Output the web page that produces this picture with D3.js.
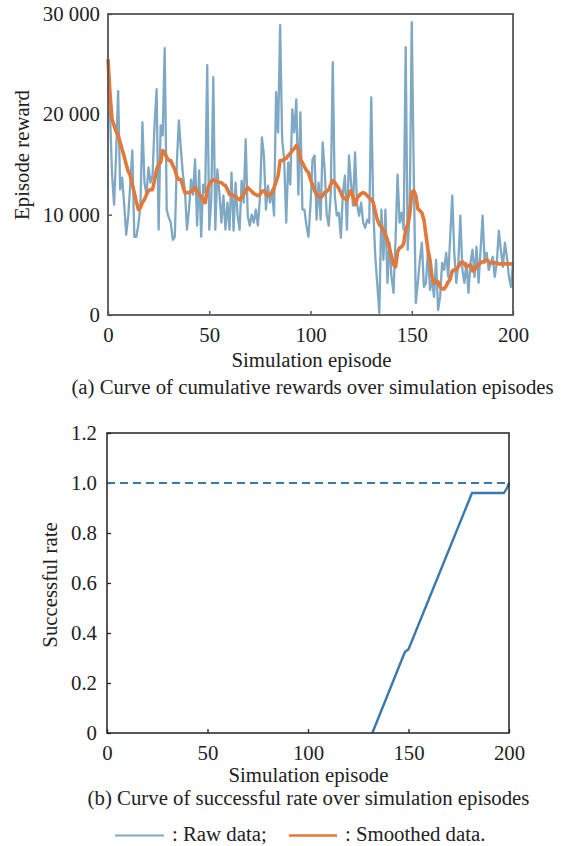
<!DOCTYPE html>
<html>
<head>
<meta charset="utf-8">
<script src="https://cdn.jsdelivr.net/npm/d3@7/dist/d3.min.js"></script>
<style>
  html, body { margin: 0; padding: 0; background: #fff; }
  svg { display: block; }
  svg text { font-family: "Liberation Serif", "Times New Roman", Times, "Nimbus Roman", "DejaVu Serif", serif; fill: #222; }
</style>
</head>
<body>
<svg id="fig" width="561" height="846"></svg>
<script>
// Episode reward per simulation episode (raw), episodes 0..200
const rawReward = [
  24000, 20000, 14000, 11000, 16000, 22300, 12500, 13700, 11000, 8000,
  9900, 13000, 16400, 7800, 7800, 9000, 10900, 19200, 13200, 12000,
  14700, 13200, 13900, 19000, 22500, 8500, 18900, 17900, 26600, 10500,
  9700, 9200, 7500, 7800, 15200, 19400, 16500, 14000, 12400, 8500,
  10500, 13500, 12000, 15500, 8900, 14400, 7800, 13000, 12200, 24900,
  8500, 11500, 23700, 8500, 14500, 12200, 9200, 11900, 8500, 11200,
  8500, 14200, 8400, 13200, 9900, 8500, 13400, 11200, 17500, 9900,
  8900, 10000, 9200, 10500, 8900, 11500, 17700, 15900, 10500, 12900,
  11200, 12500, 9900, 22200, 18200, 28900, 17500, 15500, 9200, 15200,
  13000, 20500, 18200, 21500, 12000, 20200, 10500, 10500, 8900, 7800,
  11000, 15500, 15900, 9500, 13200, 9500, 17200, 14500, 10000, 8900,
  12200, 25200, 11900, 9900, 10200, 7700, 12200, 13900, 8500, 15900,
  13200, 10900, 16200, 11000, 9900, 11200, 9200, 8700, 9500, 9200,
  21700, 10500, 5800, 3000, 200, 10500, 5500, 10500, 3200, 7200,
  3800, 2200, 7500, 14000, 9200, 10200, 8500, 26700, 6500, 10500,
  29200, 13900, 1200, 3200, 5500, 7200, 2800, 3200, 6500, 2500,
  3500, 1800, 5500, 500, 1800, 5200, 4500, 6200, 3800, 7800,
  11900, 6200, 3200, 5200, 9900, 4500, 3200, 5200, 2200, 5200,
  6500, 3800, 6800, 3200, 6500, 9900, 5200, 6200, 4500, 5200,
  5800, 3800, 5200, 8400, 6500, 4800, 7200, 5800, 3800, 2800,
  5200
];

// Smoothed episode reward, episodes 0..200
const smoothReward = [
  25500, 22000, 19500, 18900, 18300, 17900, 17200, 16500, 15800, 15000,
  14300, 13900, 13000, 12200, 11300, 10500, 10700, 11200, 11500, 12000,
  12400, 12500, 12500, 13500, 14500, 15000, 15200, 16400, 16200, 15700,
  15400, 15400, 14900, 14500, 13800, 13500, 13500, 12800, 12200, 12200,
  12200, 12300, 12400, 12700, 12300, 12000, 11800, 11400, 11200, 12500,
  13000, 13300, 13500, 13400, 13300, 13200, 13200, 13000, 12900, 12500,
  12000, 12000, 11900, 11800, 11600, 11500, 11700, 12000, 12400, 12700,
  12500, 12300, 12100, 12000, 11900, 12000, 12300, 12400, 12100, 11900,
  12000, 12200, 12700, 13300, 13900, 15400, 15400, 15500, 15600, 15900,
  16100, 16400, 16600, 16900, 16600, 15500, 15200, 14800, 14400, 14200,
  13500, 13000, 12400, 12000, 11800, 11700, 11900, 12200, 12300, 12500,
  13000, 13400, 13200, 12900, 12600, 12200, 11700, 11600, 11500, 12000,
  12400, 11800, 11000, 11600, 11900, 12100, 12200, 12100, 11900, 11700,
  11500, 11200, 10300, 9500, 9000, 8800, 8500, 8000, 7500, 6700,
  5800, 5000, 4800, 6300, 6700, 6800, 7100, 8500, 9000, 10000,
  12200, 12400, 11900, 10600, 10400, 10200, 9500, 8000, 6500, 5500,
  3800, 3200, 3400, 3300, 2800, 2600, 2600, 2900, 3300, 3600,
  4400, 4500, 4500, 4800, 5200, 5300, 5100, 4800, 4900, 5000,
  4400, 4500, 4800, 5000, 5200, 5300, 5400, 5500, 5300, 5200,
  5200, 5200, 5200, 5100, 5100, 5100, 5100, 5100, 5100, 5100,
  5100
];

// Successful rate: breakpoints of the rising part of the curve
const rateEpisodes = [132, 147.5, 148.3, 150, 181.6, 197.5, 199, 200];
const rateValues   = [0, 0.31, 0.325, 0.335, 0.96, 0.96, 0.98, 1.0];
const targetRate = 1.0;

const episodeTicks = [0, 50, 100, 150, 200];
const rewardTicks = [0, 10000, 20000, 30000];
const rateTicks = [0, 0.2, 0.4, 0.6, 0.8, 1.0, 1.2];

const captions = {
  a: "(a) Curve of cumulative rewards over simulation episodes",
  b: "(b) Curve of successful rate over simulation episodes"
};
const legendLabels = [": Raw data;", ": Smoothed data."];

const colors = { raw: "#7ea8c4", smooth: "#e2783a", rate: "#3a78b0" };

const FONT = '"Liberation Serif", "Times New Roman", Times, "Nimbus Roman", "DejaVu Serif", serif';
const svg = d3.select("#fig");
const fontSize = 20.8;

const spaceFmt = d3.formatLocale({ decimal: ".", thousands: " ", grouping: [3], currency: ["", ""] }).format(",d");

function label(g, attrs, str) {
  const t = g.append("text").attr("font-family", FONT).attr("font-size", fontSize).attr("fill", "#222").text(str);
  Object.entries(attrs).forEach(([k, v]) => t.attr(k, v));
  return t;
}

function styleAxis(ax, tickColor) {
  ax.select(".domain").remove();
  ax.selectAll("text").attr("font-family", FONT).attr("font-size", fontSize).attr("fill", "#222");
  ax.selectAll("line").attr("stroke", tickColor).attr("stroke-width", 1.3);
}

// ---------- Panel (a): rewards ----------
const A = { left: 108, right: 513, top: 14, bottom: 315 };
const xA = d3.scaleLinear().domain([0, 200]).range([A.left, A.right]);
const yA = d3.scaleLinear().domain([0, 30000]).range([A.bottom, A.top]);

const gA = svg.append("g");

styleAxis(gA.append("g").attr("transform", `translate(0,${A.bottom})`)
  .call(d3.axisBottom(xA).tickValues(episodeTicks).tickSize(-4).tickPadding(12.5).tickFormat(d3.format("d"))), "#444");
styleAxis(gA.append("g").attr("transform", `translate(${A.left},0)`)
  .call(d3.axisLeft(yA).tickValues(rewardTicks).tickSize(-4).tickPadding(8).tickFormat(spaceFmt)), "#444");

const lineA = data => d3.line().x((d, i) => xA(i)).y(d => yA(d))(data);

gA.append("path").attr("d", lineA(rawReward))
  .attr("fill", "none").attr("stroke", colors.raw).attr("stroke-width", 2.3)
  .attr("stroke-linejoin", "round");
gA.append("path").attr("d", lineA(smoothReward))
  .attr("fill", "none").attr("stroke", colors.smooth).attr("stroke-width", 3.6)
  .attr("stroke-linejoin", "round");

gA.append("rect").attr("x", A.left).attr("y", A.top)
  .attr("width", A.right - A.left).attr("height", A.bottom - A.top)
  .attr("fill", "none").attr("stroke", "#555").attr("stroke-width", 1.8);

label(gA, { transform: "translate(29,155) rotate(-90)", "text-anchor": "middle" }, "Episode reward");
label(gA, { x: 311.5, y: 367, "text-anchor": "middle" }, "Simulation episode");
label(gA, { x: 312.5, y: 393.5, "text-anchor": "middle" }, captions.a);

// ---------- Panel (b): successful rate ----------
const B = { left: 107, right: 509, top: 433, bottom: 733 };
const xB = d3.scaleLinear().domain([0, 200]).range([B.left, B.right]);
const yB = d3.scaleLinear().domain([0, 1.2]).range([B.bottom, B.top]);

const gB = svg.append("g");
const rateFmt = d => d === 0 ? "0" : d3.format(".1f")(d);

styleAxis(gB.append("g").attr("transform", `translate(0,${B.bottom})`)
  .call(d3.axisBottom(xB).tickValues(episodeTicks).tickSize(-4).tickPadding(12.5).tickFormat(d3.format("d"))), "#222");
styleAxis(gB.append("g").attr("transform", `translate(${B.left},0)`)
  .call(d3.axisLeft(yB).tickValues(rateTicks).tickSize(-4).tickPadding(10).tickFormat(rateFmt)), "#222");

// target rate reference (dashed)
gB.append("path")
  .attr("d", d3.line().x(d => xB(d)).y(() => yB(targetRate))([0, 200]))
  .attr("fill", "none").attr("stroke", colors.rate).attr("stroke-width", 2)
  .attr("stroke-dasharray", "8,5");

const ratePts = rateEpisodes.map((e, i) => [e, rateValues[i]]);
gB.append("path")
  .attr("d", d3.line().x(d => xB(d[0])).y(d => yB(d[1]))(ratePts))
  .attr("fill", "none").attr("stroke", colors.rate).attr("stroke-width", 2.4)
  .attr("stroke-linejoin", "round");

gB.append("rect").attr("x", B.left).attr("y", B.top)
  .attr("width", B.right - B.left).attr("height", B.bottom - B.top)
  .attr("fill", "none").attr("stroke", "#222").attr("stroke-width", 1.5);

label(gB, { transform: "translate(57,585) rotate(-90)", "text-anchor": "middle" }, "Successful rate");
label(gB, { x: 308.5, y: 782, "text-anchor": "middle" }, "Simulation episode");
label(gB, { x: 308.5, y: 805, "text-anchor": "middle" }, captions.b);

// ---------- Legend ----------
const legend = svg.append("g");
const legendItems = [
  { x0: 115, x1: 164, tx: 172, color: colors.raw, width: 2.2, label: legendLabels[0] },
  { x0: 289, x1: 337, tx: 345, color: colors.smooth, width: 2.4, label: legendLabels[1] }
];
legendItems.forEach(it => {
  legend.append("line").attr("x1", it.x0).attr("x2", it.x1).attr("y1", 835.5).attr("y2", 835.5)
    .attr("stroke", it.color).attr("stroke-width", it.width);
  label(legend, { x: it.tx, y: 841 }, it.label);
});
</script>
</body>
</html>
